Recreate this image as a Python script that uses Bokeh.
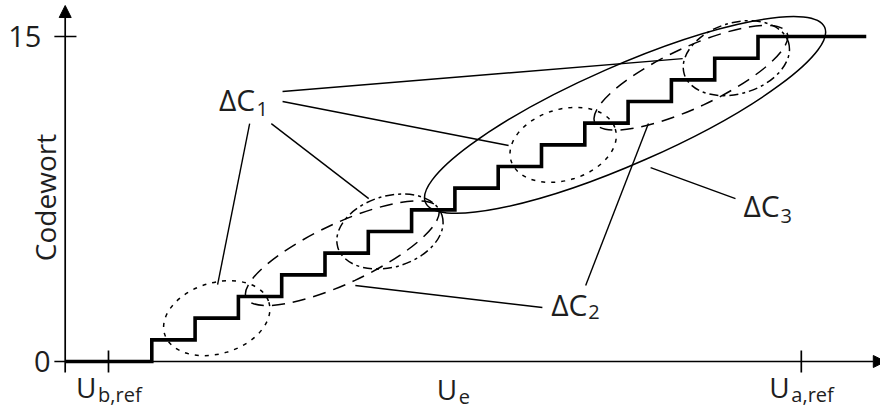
import numpy as np
from bokeh.plotting import figure
from bokeh.models import Range1d, Arrow, NormalHead, LabelSet, ColumnDataSource
from bokeh.core.properties import value
from bokeh.embed import file_html
from bokeh.resources import INLINE

# 4-bit ADC transfer characteristic, input voltage in LSB above U_b,ref
codes = list(range(16))
transitions = list(range(1, 16))
u_left = -1.0
u_right = 17.5

# axis ticks
u_ticks = [0, 16]
code_ticks = [0, 15]
code_tick_labels = ["0", "15"]
u_label_main = ["U", "U", "U"]
u_label_sub = ["b,ref", "e", "a,ref"]

# error groups: small ellipses (ΔC1), medium (ΔC2), large (ΔC3)
dc1_x = [2.5, 6.5, 10.5, 14.5]
dc1_y = [2.0, 6.0, 10.0, 14.0]
dc1_dash = ["4 6", "9 4 3 4", "4 6", "9 4 3 4"]
dc2_x = [5.4, 13.45]
dc2_y = [5.0, 13.1]
dc3_x = [11.93]
dc3_y = [11.38]

FONT = value("Open Sans")
INK = "#1e1e1e"

p = figure(width=880, height=410,
           x_range=Range1d(-2.494, 17.829), y_range=Range1d(-2.2615, 16.662),
           x_axis_type=None, y_axis_type=None,
           output_backend="svg", toolbar_location=None, min_border=0)
p.grid.visible = False
p.outline_line_color = None
p.background_fill_color = "white"
p.border_fill_color = "white"

# axes with arrow heads
p.add_layout(Arrow(end=NormalHead(size=12, fill_color="black", line_color="black", line_width=1),
                   x_start=-1.0, y_start=-0.508, x_end=-1.0, y_end=16.43,
                   line_width=1.7, line_color="black"))
p.add_layout(Arrow(end=NormalHead(size=12, fill_color="black", line_color="black", line_width=1),
                   x_start=-1.25, y_start=0, x_end=17.94, y_end=0,
                   line_width=1.7, line_color="black"))

# ticks
p.segment(x0=[-1.25], y0=[code_ticks[1]], x1=[-0.74], y1=[code_ticks[1]],
          line_color="black", line_width=1.7)
p.segment(x0=u_ticks, y0=[-0.508] * 2, x1=u_ticks, y1=[0.508] * 2,
          line_color="black", line_width=1.7)

# transfer staircase
step_x = [u_left] + transitions + [u_right]
step_y = [codes[0]] + codes[1:] + [codes[-1]]
p.step(step_x, step_y, mode="after", line_color="black", line_width=3.6,
       line_join="miter")

# error ellipses
for cx, cy, dash in zip(dc1_x, dc1_y, dc1_dash):
    p.ellipse(x=[cx], y=[cy], width=[109], height=[71], angle=[np.radians(17)],
              width_units="screen", height_units="screen",
              fill_color=None, line_color="black", line_width=1.5, line_dash=dash)
p.ellipse(x=dc2_x, y=dc2_y, width=212, height=60, angle=np.radians(25),
          width_units="screen", height_units="screen",
          fill_color=None, line_color="black", line_width=1.5, line_dash="13 8")
p.ellipse(x=dc3_x, y=dc3_y, width=436, height=98, angle=np.radians(23.7),
          width_units="screen", height_units="screen",
          fill_color=None, line_color="black", line_width=1.5)

# leader lines from the labels to the ellipses
lead_x0 = [4.02, 4.02, 3.76, 3.26, 10.02, 11.02, 14.48]
lead_y0 = [12.46, 12.00, 10.98, 10.98, 2.49, 3.51, 7.52]
lead_x1 = [13.26, 9.24, 6.01, 2.52, 5.70, 12.47, 12.52]
lead_y1 = [13.98, 9.97, 7.52, 3.55, 3.51, 10.99, 8.95]
p.segment(x0=lead_x0, y0=lead_y0, x1=lead_x1, y1=lead_y1,
          line_color="black", line_width=1.4)


def labels(xs, ys, texts, size, align, baseline="alphabetic", angle=0.0):
    src = ColumnDataSource(dict(x=xs, y=ys, text=texts))
    p.add_layout(LabelSet(x="x", y="y", text="text", source=src, angle=angle,
                          text_font=FONT, text_font_size=size, text_align=align,
                          text_baseline=baseline, text_color=INK))


# tick labels
labels([-1.34, -1.55], code_ticks, code_tick_labels, "29px", "right", "middle")
labels([-0.28, 8.05, 15.73], [-1.68, -1.76, -1.68], u_label_main, "28px", "right")
labels([-0.24, 8.09, 15.77], [-1.86, -1.95, -1.86], u_label_sub, "20px", "left")

# axis title
labels([-1.455], [7.57], ["Codewort"], "28px", "center", "middle", np.pi / 2)

# group labels
labels([3.39, 11.06, 15.50], [11.58, 2.12, 6.65], ["ΔC", "ΔC", "ΔC"], "30px", "right")
labels([3.42, 11.08, 15.52], [11.35, 1.94, 6.37], ["1", "2", "3"], "20px", "left")

open("out.html", "w").write(file_html(p, INLINE))
